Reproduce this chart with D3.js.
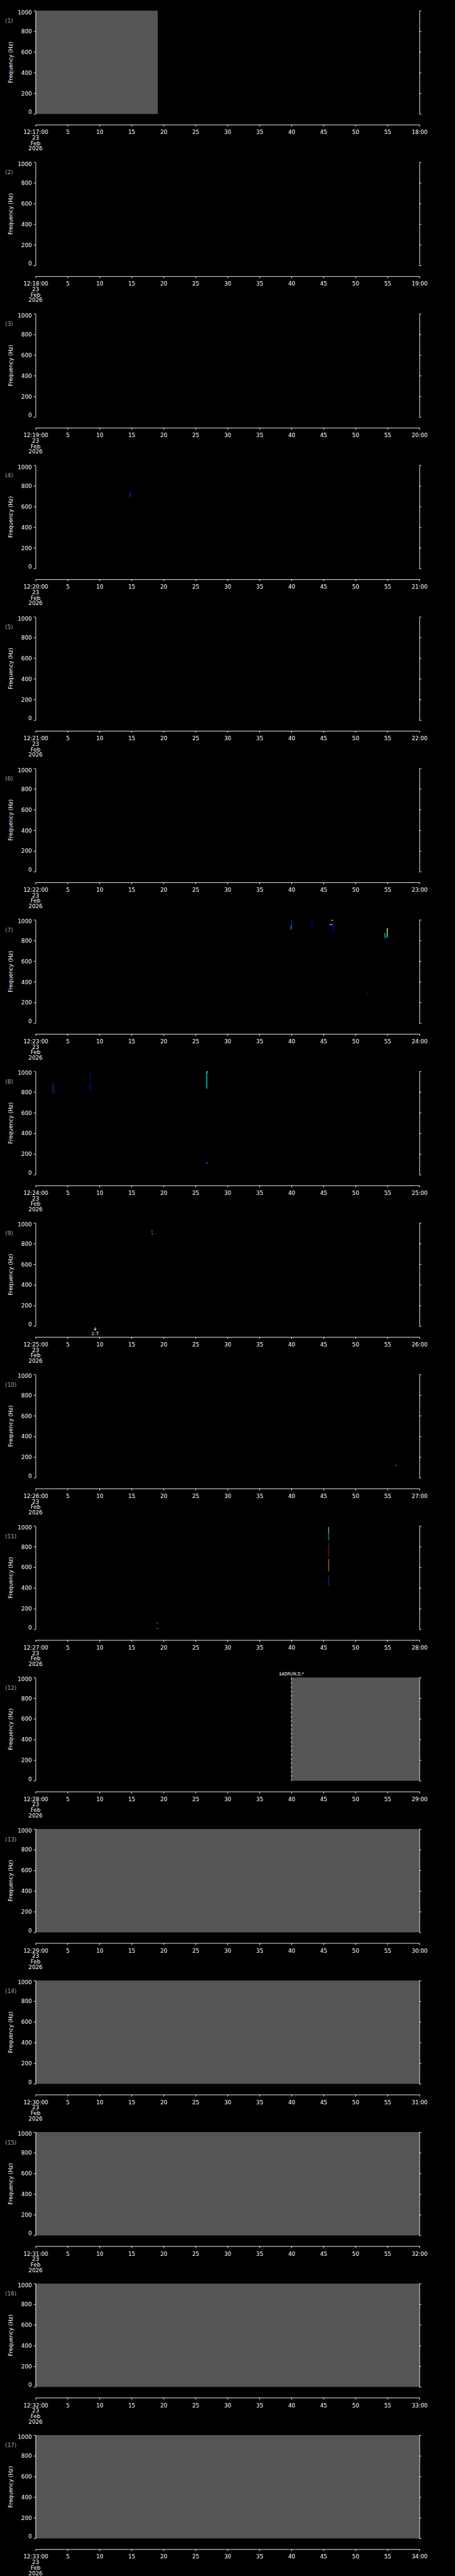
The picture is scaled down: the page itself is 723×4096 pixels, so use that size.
<!DOCTYPE html>
<html><head><meta charset="utf-8">
<script src="https://cdn.jsdelivr.net/npm/d3@7"></script>
<style>
html,body{margin:0;padding:0;background:#000;overflow:hidden}
text{font-family:"DejaVu Sans",sans-serif;}
</style>
</head><body>
<svg id="chart"></svg>
<script>
// ---------------- data ----------------
const panelStart = ["12:17:00","12:18:00","12:19:00","12:20:00","12:21:00","12:22:00","12:23:00","12:24:00","12:25:00","12:26:00","12:27:00","12:28:00","12:29:00","12:30:00","12:31:00","12:32:00","12:33:00"];
const panelEnd = ["18:00","19:00","20:00","21:00","22:00","23:00","24:00","25:00","26:00","27:00","28:00","29:00","30:00","31:00","32:00","33:00","34:00"];
const panelNames = ["(1)","(2)","(3)","(4)","(5)","(6)","(7)","(8)","(9)","(10)","(11)","(12)","(13)","(14)","(15)","(16)","(17)"];
const dateLines = ["23","Feb","2026"];
const secMajor = [0,5,10,15,20,25,30,35,40,45,50,55,60];
const secMinor = d3.range(0,61,1);
const freqMajor = [0,200,400,600,800,1000];
const freqMinor = d3.range(0,1001,50);
const yLabel = "Frequency (Hz)";

// spans with no data (grey fill): [panel, tStart, tEnd]
const noDataSpans = [[1,0,19.1],[12,40,60],[13,0,60],[14,0,60],[15,0,60],[16,0,60],[17,0,60]];
// run markers: [panel, t, label]
const runMarks = [[12,40,"$ADRUN,D,*"]];
// spectral cells: [panel, t0, t1, f0, f1, level]
const cells = [
  [4,14.70,14.80,690,745,2],
  [7,39.95,40.19,997,1000,2],[7,39.95,40.03,905,1000,2],[7,39.88,40.00,906,947,3],
  [7,43.17,43.28,900,1000,1],
  [7,46.25,46.48,991,1000,6],[7,45.90,46.50,948,960,2],[7,46.10,46.30,950,958,6],[7,46.45,46.60,897,951,1],[7,46.55,46.85,897,901,1],
  [7,51.80,52.00,286,292,2],
  [7,54.44,54.58,860,876,2],[7,54.56,54.67,823,866,4],[7,54.63,54.93,821,828,2],[7,54.90,55.04,831,917,5],[7,54.93,55.14,912,917,5],
  [8,2.59,2.78,876,880,2],[8,2.68,2.78,794,880,2],[8,2.70,2.92,794,798,2],
  [8,8.54,8.70,976,981,1],[8,8.54,8.61,939,981,1],[8,8.47,8.54,937,941,6],[8,8.47,8.61,804,893,1],
  [8,26.71,26.83,834,999,4],[8,26.74,26.92,991,999,6],[8,26.92,27.06,995,999,2],[8,26.64,26.80,834,841,3],
  [8,26.55,26.92,110,121,2],
  [9,18.13,18.26,917,925,7],[9,18.10,18.33,894,900,4],[9,18.19,18.33,887,895,2],
  [9,9.17,9.51,17,22,1],
  [10,56.20,56.30,122,126,4],[10,56.27,56.40,116,122,4],[10,56.34,56.53,112,118,2],
  [11,18.84,18.98,59,63,2],[11,18.98,19.17,57,61,4],[11,18.84,18.94,5,10,2],[11,18.94,19.17,5,10,4],
  [11,45.75,45.85,930,990,5],[11,45.78,45.86,860,930,4],[11,45.78,45.86,700,840,8],[11,45.78,45.86,560,680,7],[11,45.78,45.86,420,520,2]
];
// small value annotations: [panel, t, line1, line2]
const notes = [[9,9.3,"4","2.7"]];

// ---------------- layout ----------------
const W = 1024, H = 5802, NP = 17, PH = H / NP;
const X0 = 80, X1 = 944, TOP = 24, PLOTH = 232.7, XAX = 281;
const levelColor = d3.scaleOrdinal().domain([1,2,3,4,5,6,7,8])
  .range(["#0000d0","#0048ff","#00a0ff","#00e8e8","#a8ff60","#f0e800","#ffa800","#c02000"]);

const svg = d3.select("#chart")
  .attr("width", 723).attr("height", 4096)
  .attr("viewBox", `0 0 ${W} ${H}`)
  .style("display","block").style("background","#000");

svg.append("rect").attr("width",W).attr("height",H).attr("fill","#000");

const FS = 12.4, SW = 1.3;
const x = d3.scaleLinear().domain([0,60]).range([X0,X1]);

for (let p = 1; p <= NP; p++) {
  const off = (p-1)*PH;
  const top = off + TOP, bot = off + TOP + PLOTH;
  const y = d3.scaleLinear().domain([0,1000]).range([bot, top]);
  const g = svg.append("g");

  // grey no-data spans
  noDataSpans.filter(d => d[0] === p).forEach(d => {
    g.append("rect").attr("x", x(d[1])).attr("y", y(1000))
      .attr("width", x(d[2]) - x(d[1])).attr("height", y(0) - y(1000))
      .attr("fill", "#555555");
  });
  // spectral cells
  g.selectAll("rect.cell").data(cells.filter(d => d[0] === p)).enter()
    .append("rect").attr("class","cell")
    .attr("x", d => x(d[1])).attr("y", d => y(d[4]))
    .attr("width", d => Math.max(1, x(d[2]) - x(d[1])))
    .attr("height", d => Math.max(1, y(d[3]) - y(d[4])))
    .attr("fill", d => levelColor(d[5]));
  // run markers
  runMarks.filter(d => d[0] === p).forEach(d => {
    g.append("line").attr("x1", x(d[1])).attr("x2", x(d[1]))
      .attr("y1", y(1000)).attr("y2", y(0))
      .attr("stroke","#fff").attr("stroke-width",SW).attr("stroke-dasharray","6.3 3.2");
    g.append("text").attr("x", x(d[1]) - 28).attr("y", top - 4)
      .attr("fill","#fff").attr("font-size",10)
      .attr("textLength",56).attr("lengthAdjust","spacingAndGlyphs")
      .text(d[2]);
  });
  // notes
  notes.filter(d => d[0] === p).forEach(d => {
    g.append("text").attr("x", x(d[1])).attr("y", bot + 10).attr("text-anchor","middle")
      .attr("fill","#fff").attr("font-size",10).text(d[2]);
    g.append("text").attr("x", x(d[1])).attr("y", bot + 19.5).attr("text-anchor","middle")
      .attr("fill","#fff").attr("font-size",10).text(d[3]);
  });

  // left axis
  const left = g.append("g").attr("transform",`translate(${X0},0)`);
  left.call(d3.axisLeft(y).tickValues(freqMinor).tickSize(2).tickSizeOuter(0).tickFormat(""));
  left.call(d3.axisLeft(y).tickValues(freqMajor).tickSize(4.3).tickSizeOuter(0).tickFormat(d3.format("d")));
  left.selectAll("path,line").attr("stroke","#fff").attr("stroke-width",SW);
  left.selectAll("text").attr("fill","#fff").attr("font-size",FS)
    .attr("font-family","DejaVu Sans").attr("x",-8.5)
    .attr("dy", d => d === 1000 ? "7.8" : d === 0 ? "-0.4" : "4.3");

  // right axis
  const right = g.append("g").attr("transform",`translate(${X1},0)`);
  right.call(d3.axisRight(y).tickValues(freqMinor).tickSize(2.7).tickSizeOuter(0).tickFormat(""));
  right.call(d3.axisRight(y).tickValues(freqMajor).tickSize(4.3).tickSizeOuter(0).tickFormat(""));
  right.selectAll("path,line").attr("stroke","#fff").attr("stroke-width",SW);

  // bottom time axis
  const bx = g.append("g").attr("transform",`translate(0,${off + XAX})`);
  bx.call(d3.axisBottom(x).tickValues(secMinor).tickSize(2.5).tickSizeOuter(0).tickFormat(""));
  bx.call(d3.axisBottom(x).tickValues(secMajor).tickSize(4.3).tickSizeOuter(0)
    .tickFormat(d => d === 0 ? panelStart[p-1] : d === 60 ? panelEnd[p-1] : String(d)));
  bx.selectAll("path,line").attr("stroke","#fff").attr("stroke-width",SW);
  bx.selectAll("text").attr("fill","#fff").attr("font-size",FS)
    .attr("font-family","DejaVu Sans").attr("y",21.3).attr("dy",0);
  dateLines.forEach((s,i) => {
    bx.append("text").attr("x", x(0)).attr("y", 33.6 + i*12.3)
      .attr("text-anchor","middle").attr("fill","#fff").attr("font-size",FS).text(s);
  });

  // y label
  g.append("text").attr("transform",`translate(28,${(top+bot)/2}) rotate(-90)`)
    .attr("text-anchor","middle").attr("fill","#fff").attr("font-size",FS).text(yLabel);
  // panel number
  g.append("text").attr("x",11.7).attr("y",top+27.5)
    .attr("fill","#aaaaaa").attr("font-size",FS).text(panelNames[p-1]);
}
</script>
</body></html>
